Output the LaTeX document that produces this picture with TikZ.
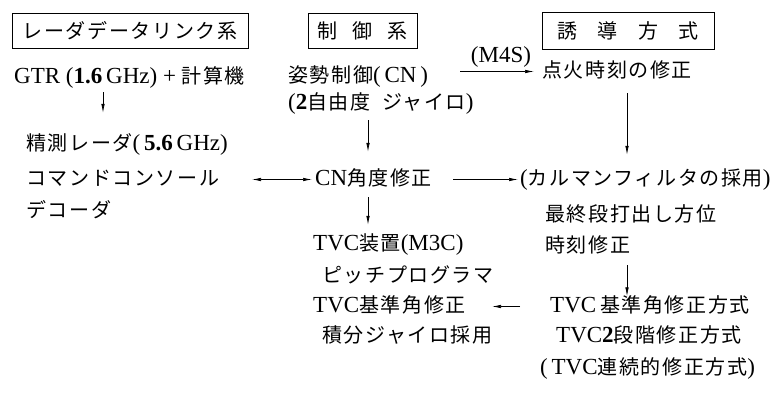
\documentclass[tikz,border=0pt]{standalone}
\usepackage{fontspec}
\setmainfont{Liberation Serif}
\newfontfamily\jp[LetterSpace=8,Scale=0.87]{Noto Sans CJK JP}
\newcommand\J[1]{{\jp #1}}
\usetikzlibrary{arrows.meta}
\begin{document}
\begin{tikzpicture}[x=1pt,y=-1pt,
  t/.style={anchor=base west,inner sep=0pt,text height=16pt,text depth=4pt,font=\fontsize{23}{27}\selectfont},
  ttl/.style={draw,line width=0.9pt,inner sep=0pt,minimum height=35pt,font=\fontsize{23}{27}\selectfont},
  arr/.style={line width=0.7pt,-{Latex[length=9pt,width=3.5pt]}},
  darr/.style={line width=0.7pt,{Latex[length=9pt,width=3.5pt]}-{Latex[length=9pt,width=3.5pt]}}]
\useasboundingbox (0,0) rectangle (783,398);
% title boxes
\node[ttl,minimum width=236pt] (b1) at (130,30.5) {\J{レーダデータリンク系}};
\node[ttl,minimum width=109pt] (b2) at (362.5,30.5) {\J{制}\hspace{15pt}\J{御}\hspace{15pt}\J{系}};
\node[ttl,minimum width=172pt,minimum height=37pt] (b3) at (628,30.5) {\J{誘}\hspace{20pt}\J{導}\hspace{20pt}\J{方}\hspace{20pt}\J{式}};
% left column
\node[t] (gtr) at (14,83.5) {GTR (\textbf{1.6}\,GHz) + \J{計算機}};
\node[t] (seis) at (26,150.5) {\J{精測レーダ}(\,\textbf{5.6}\,GHz)};
\node[t] (cmd) at (26,185.5) {\J{コマンドコンソール}};
\node[t] (dec) at (26,217.5) {\J{デコーダ}};
% middle column
\node[t] (shisei) at (288,82.5) {\J{姿勢制御}(\,CN\,)};
\node[t] (jyro) at (288,109.5) {(\textbf{2}\J{自由度}\enspace\J{ジャイロ})};
\node[t] (cn) at (315,185.5) {CN\J{角度修正}};
\node[t] (tvc) at (313,250.5) {TVC\J{装置}(M3C)};
\node[t] (pitch) at (322,282.5) {\J{ピッチプログラマ}};
\node[t] (kijun) at (313,312.5) {TVC\J{基準角修正}};
\node[t] (seki) at (322,342.5) {\J{積分ジャイロ採用}};
% right column
\node[t] (tenka) at (542,77.5) {\J{点火時刻の修正}};
\node[t] (kal) at (520,185.5) {(\J{カルマンフィルタの採用})};
\node[t] (saishu) at (545,221.5) {\J{最終段打出し方位}};
\node[t] (jikoku) at (545,252.5) {\J{時刻修正}};
\node[t] (hos1) at (550,312.5) {TVC\,\J{基準角修正方式}};
\node[t] (hos2) at (556,342.5) {TVC\textbf{2}\J{段階修正方式}};
\node[t] (hos3) at (540,374.5) {(\,TVC\J{連続的修正方式})};
% column coordinates
\coordinate (c1) at (103,0);
\coordinate (c2) at (368,0);
\coordinate (c3) at (627,0);
\coordinate (h4) at (252,0);
\coordinate (h5) at (453,0);
\coordinate (h6) at (460,0);
\coordinate (h9a) at (520,0);
\coordinate (h9b) at (492,0);
% vertical arrows
\draw[arr,shorten <=4.5pt,shorten >=21.5pt] (gtr.south -| c1) -- (seis.north -| c1);
\draw[arr,shorten <=6.5pt,shorten >=17.5pt] (jyro.south -| c2) -- (cn.north -| c2);
\draw[arr,shorten <=7.5pt,shorten >=9.5pt] (cn.south -| c2) -- (tvc.north -| c2);
\draw[arr,shorten <=11.5pt,shorten >=14.5pt] (tenka.south -| c3) -- (kal.north -| c3);
\draw[arr,shorten <=8.5pt] (jikoku.south -| c3) -- (hos1.north -| c3);
% horizontal arrows
\draw[darr,shorten >=3pt] (cmd.east -| h4) -- (cn.west);
\draw[arr,shorten >=2pt] (cn.east -| h5) -- (kal.west);
\draw[arr,shorten >=8pt] (tenka.west -| h6) -- node[midway,above=3pt,inner sep=1pt,font=\fontsize{23}{27}\selectfont] {(M4S)} (tenka.west);
\draw[arr] (hos1.west -| h9a) -- (kijun.east -| h9b);
\end{tikzpicture}
\end{document}
